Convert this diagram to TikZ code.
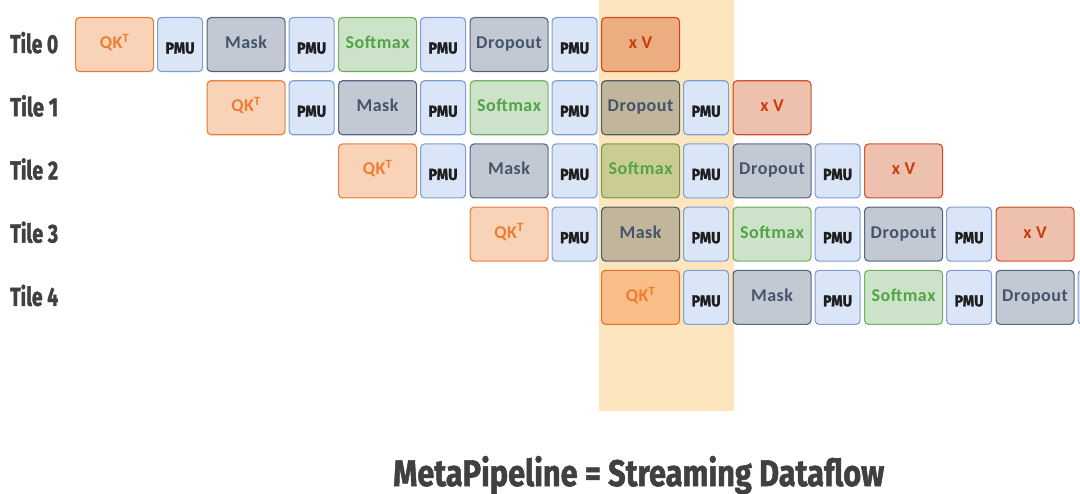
\documentclass[tikz,border=0pt]{standalone}
\usepackage{fontspec}
\setmainfont{Carlito}
\newfontfamily\blockfont{Carlito}[LetterSpace=3]
\newfontfamily\firaheavy{Fira Sans}[BoldFeatures={FakeBold=1.6}]
\usepackage{graphicx}
\definecolor{hl}{HTML}{FDE6BD}
\definecolor{qkfill}{HTML}{F9D3B8}
\definecolor{qkline}{HTML}{EE8A45}
\definecolor{qktext}{HTML}{ED7D31}
\definecolor{maskfill}{HTML}{C3C9D3}
\definecolor{maskline}{HTML}{5E7393}
\definecolor{masktext}{HTML}{44546A}
\definecolor{softfill}{HTML}{CDE3C9}
\definecolor{softline}{HTML}{7DBB6C}
\definecolor{softtext}{HTML}{52A447}
\definecolor{xvfill}{HTML}{EEC0AE}
\definecolor{xvline}{HTML}{DA5A33}
\definecolor{xvtext}{HTML}{C93C0E}
\definecolor{pmufill}{HTML}{DAE6F8}
\definecolor{pmuline}{HTML}{7E9ED3}
\definecolor{pmutext}{HTML}{1E1E1E}
\definecolor{graytext}{HTML}{404040}
\begin{document}
\begin{tikzpicture}[x=1pt,y=-1pt,
  box/.style={draw, rounded corners=4pt, line width=1.1pt, minimum height=54pt, inner sep=0pt, anchor=north west},
  bigbox/.style={box, minimum width=78pt},
  pmubox/.style={box, minimum width=45pt, fill=pmufill, draw=pmuline, text=pmutext,
     font=\firaheavy\bfseries\fontsize{16}{16}\selectfont, text height=18pt, text depth=0pt},
  qk/.style={fill=qkfill, draw=qkline},
  mask/.style={fill=maskfill, draw=maskline},
  soft/.style={fill=softfill, draw=softline},
  drop/.style={fill=maskfill, draw=maskline},
  xv/.style={fill=xvfill, draw=xvline},
  qkL/.style={text=qktext},
  maskL/.style={text=masktext},
  softL/.style={text=softtext},
  dropL/.style={text=masktext},
  xvL/.style={text=xvtext},
  biglab/.style={font=\blockfont\bfseries\fontsize{18}{18}\selectfont, text height=12pt, text depth=4pt, inner sep=0pt},
  tilelab/.style={anchor=base west, inner sep=0pt, text=graytext, font=\firaheavy\bfseries\fontsize{26}{26}\selectfont},
  titlelab/.style={anchor=base west, inner sep=0pt, text=graytext, font=\firaheavy\bfseries\fontsize{37}{37}\selectfont}
]
\useasboundingbox (0,0) rectangle (1080,494);
\clip (0,0) rectangle (1080,494);
\fill[white] (0,0) rectangle (1080,494);
\fill[hl] (599,0) rectangle (734,411);
% big block boxes, multiplied onto the highlight
\begin{scope}[blend mode=multiply]
\foreach \i in {0,...,4} {
  \pgfmathsetmacro\yy{17+63.2*\i}
  \foreach \k/\kind in {0/qk,1/mask,2/soft,3/drop,4/xv} {
    \pgfmathtruncatemacro\pos{\i+\k}
    \ifnum\pos<8
      \pgfmathsetmacro\xx{75+131.5*\pos}
      \node[bigbox, \kind] (b\i-\k) at (\xx,\yy) {};
    \fi
  }
}
\end{scope}
% labels of big blocks, PMUs, tile labels
\foreach \i in {0,...,4} {
  \pgfmathsetmacro\yy{17+63.2*\i}
  \node[tilelab] (tile\i) at (10,\yy+36) {\resizebox{48pt}{\height}{Tile \i}};
  \foreach \k/\kind/\txt in {0/qk/{QK\textsuperscript{T}},1/mask/Mask,2/soft/Softmax,3/drop/Dropout,4/xv/{x V}} {
    \pgfmathtruncatemacro\pos{\i+\k}
    \ifnum\pos<8
      \node[biglab, \kind L] (l\i-\k) at (b\i-\k.center) {\txt};
    \fi
  }
  \foreach \k in {0,...,3} {
    \pgfmathtruncatemacro\pos{\i+\k}
    \pgfmathsetmacro\xx{157+131.5*\pos}
    \ifnum\pos<7
      \node[pmubox] (p\i-\k) at (\xx,\yy) {\resizebox{29pt}{\height}{PMU}};
    \else
      \node[pmubox] (p\i-\k) at (\xx,\yy) {};
    \fi
  }
}
\node[titlelab] (title) at (393,486) {\resizebox{491pt}{\height}{MetaPipeline = Streaming Dataflow}};
\end{tikzpicture}
\end{document}
